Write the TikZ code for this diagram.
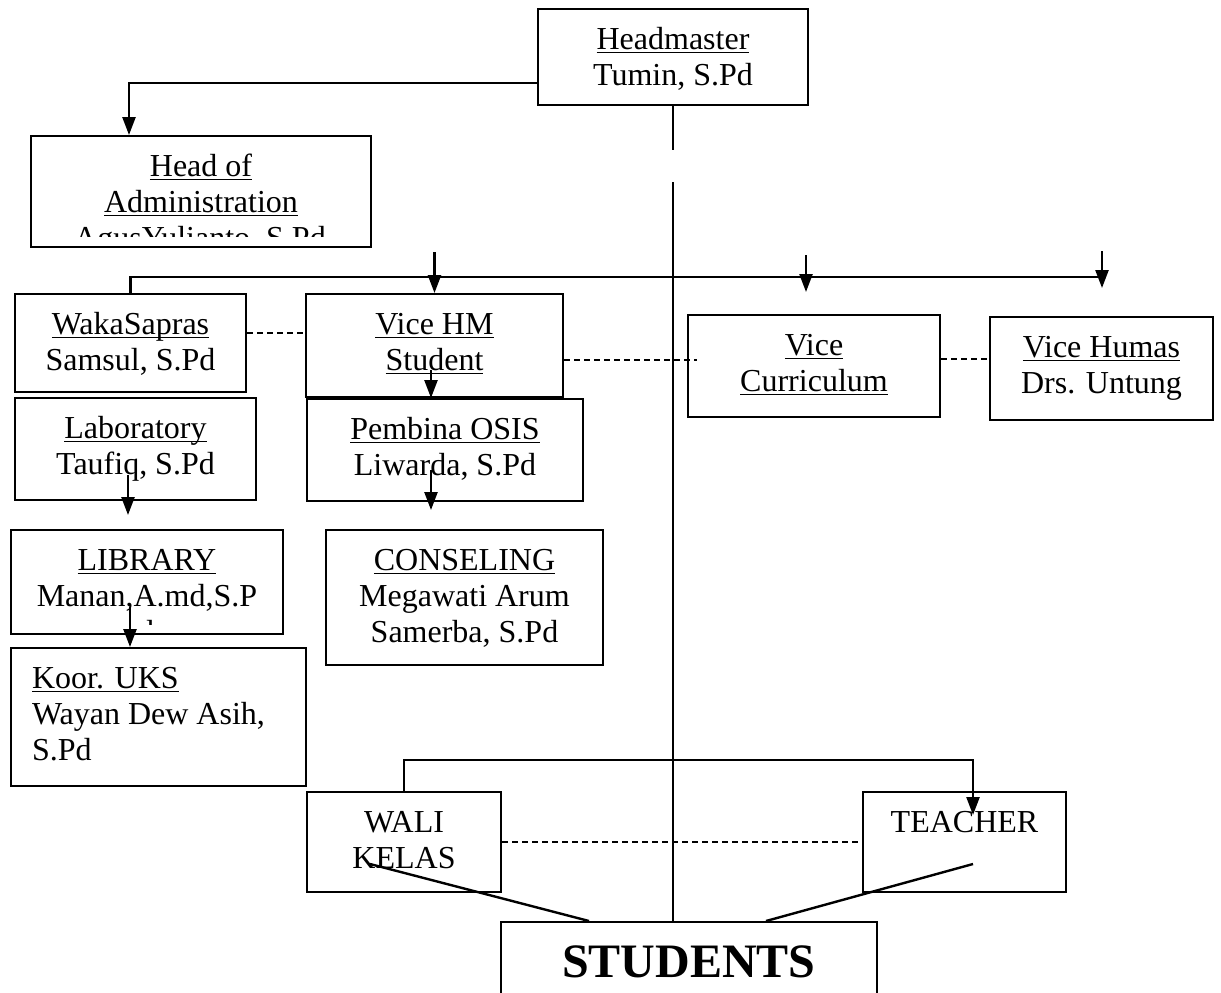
\documentclass[tikz,border=0pt]{standalone}
\usepackage{fontspec}
\setmainfont{Liberation Serif}
\usetikzlibrary{arrows.meta}

% underlined title line
\newcommand{\ttl}[1]{\leavevmode\setbox0\hbox{#1}\rlap{\rule[-2.2pt]{\wd0}{0.9pt}}\box0}
% text set at the top of a box of fixed size
\newcommand{\boxtext}[4][\centering]{\parbox[c][#3][t]{#2}{#1\rule{0pt}{20pt}#4}}

\begin{document}
\begin{tikzpicture}[x=0.5pt,y=-0.5pt,
  font=\fontsize{16}{18}\selectfont,
  orgbox/.style={draw,line width=1pt,inner sep=0pt,anchor=north west},
  link/.style={line width=1.2pt},
  arr/.style={line width=1.2pt,-{Triangle[length=9pt,width=6.5pt]}},
  dashlink/.style={line width=1pt,dash pattern=on 3pt off 2pt}]
  \useasboundingbox (0,0) rectangle (1221,992);

  % Headmaster and administration
  \node[orgbox] (hm) at (537,8) {\boxtext{135pt}{48pt}{\ttl{Headmaster}\\Tumin, S.Pd}};
  \node[orgbox] (ha) at (30,135) {\boxtext{170pt}{55.5pt}{\ttl{Head of}\\\ttl{Administration}}};

  % Vice headmasters
  \node[orgbox] (ws) at (14,293) {\boxtext{115.5pt}{49pt}{\ttl{WakaSapras}\\Samsul, S.Pd}};
  \node[orgbox] (vhm) at (305,293) {\boxtext{128.5pt}{51.5pt}{\ttl{Vice HM}\\\ttl{Student}}};
  \node[orgbox] (vcur) at (687,314) {\boxtext{126pt}{51pt}{\ttl{Vice}\\\ttl{Curriculum}}};
  \node[orgbox] (vhu) at (989,316) {\boxtext{111.5pt}{51.5pt}{\ttl{Vice Humas}\\Drs. Untung}};

  % Units below
  \node[orgbox] (lab) at (14,397) {\boxtext{120.5pt}{51pt}{\ttl{Laboratory}\\Taufiq, S.Pd}};
  \node[orgbox] (pem) at (306,398) {\boxtext{138pt}{51pt}{\ttl{Pembina OSIS}\\Liwarda, S.Pd}};
  \node[orgbox] (lib) at (10,529) {\boxtext{136pt}{52pt}{\ttl{LIBRARY}\\Manan,A.md,S.P}};
  \node[orgbox] (con) at (325,529) {\boxtext{138.5pt}{67.5pt}{\ttl{CONSELING}\\Megawati Arum\\Samerba, S.Pd}};
  \node[orgbox] (uks) at (10,647) {\boxtext[\raggedright\leftskip=10.5pt]{147.5pt}{69pt}{\ttl{Koor. UKS}\\Wayan Dew Asih,\\S.Pd}};

  % Class level
  \node[orgbox] (wali) at (306,791) {\boxtext{97pt}{50pt}{WALI\\KELAS}};
  \node[orgbox] (tea) at (862,791) {\boxtext{101.5pt}{50pt}{TEACHER}};
  \node[orgbox] (stu) at (500,921) {\boxtext{188pt}{45pt}{\fontsize{24}{28}\bfseries\rule{0pt}{27.5pt}STUDENTS}};

  % Text running out of the boxes
  \begin{scope}
    \clip (ha.north west) rectangle (370,236);
    \node[anchor=base] (haname) at (200,248) {AgusYulianto, S.Pd};
  \end{scope}
  \begin{scope}
    \clip (lib.north west) rectangle (282,624);
    \node[anchor=base] (libend) at (146,642) {d};
  \end{scope}

  % Lines from the headmaster
  \draw[arr] ([yshift=-13pt]hm.west) -| ([xshift=-36pt]ha.north);
  \draw[line width=0.7pt] (hm.south) -- ++(0,44) ++(0,32) -- (stu.north -| hm.south);
  \draw[link] (ws.north) |- (1103,277);
  \draw[arr] (vhm.north) ++(0,-41) -- (vhm.north);
  \draw[arr] (806,255) -- (806,292);
  \draw[arr] (1102,251) -- (1102,288);

  % Dashed links
  \draw[dashlink] (ws.east |- 0,333) -- (vhm.west |- 0,333);
  \draw[dashlink] (vhm.east |- 0,360) -- (697,360);
  \draw[dashlink] (vcur.east |- 0,359) -- (vhu.west |- 0,359);
  \draw[dashlink] (wali.east) -- (tea.west);

  % Arrows down the columns
  \draw[arr] (431,370) -- (pem.north -| 431,0);
  \draw[arr] (128,475) -- (128,515);
  \draw[arr] (431,470) -- (431,510);
  \draw[arr] (130,607) -- (uks.north -| 130,0);

  % Wali kelas, teacher and students
  \draw[arr] (wali.north) |- (973,760) -- (973,815);
  \draw[link] (370,864) -- (stu.north -| 589,0);
  \draw[link] (973,864) -- (stu.north -| 766,0);
\end{tikzpicture}
\end{document}
